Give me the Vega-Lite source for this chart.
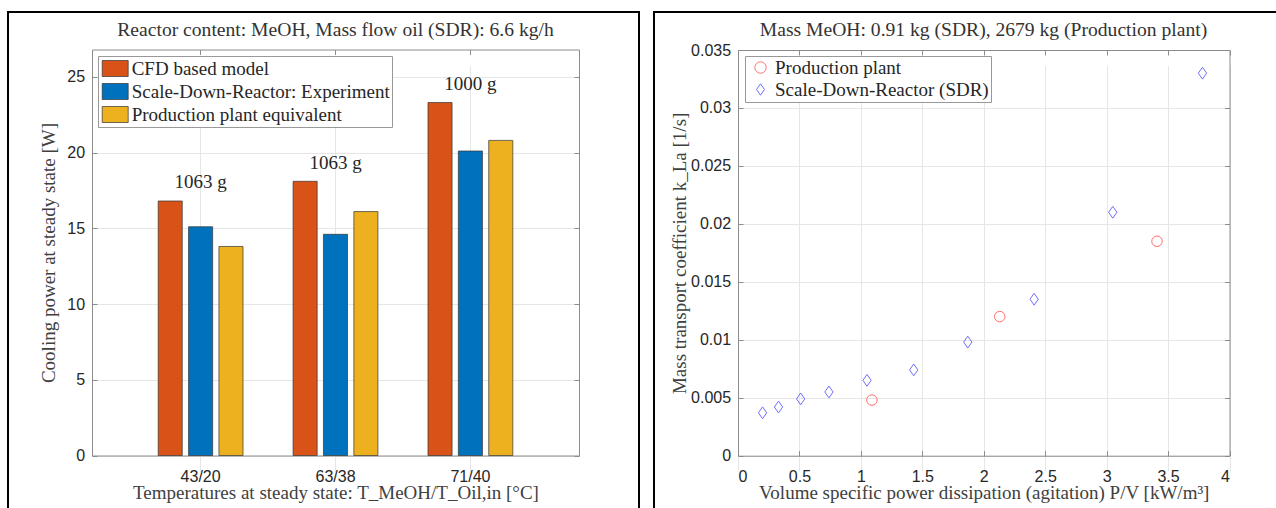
{
  "$schema": "https://vega.github.io/schema/vega-lite/v6.json",
  "padding": {"left": 7, "top": 11, "right": 0, "bottom": 0},
  "spacing": 13,
  "background": "white",
  "resolve": {
    "scale": {"color": "independent", "shape": "independent"},
    "legend": {"color": "independent", "shape": "independent"}
  },
  "datasets": {
    "bars": [
      {"temp": "43/20", "series": "CFD based model", "power": 16.8, "mass": "1063 g"},
      {"temp": "43/20", "series": "Scale-Down-Reactor: Experiment", "power": 15.1, "mass": "1063 g"},
      {"temp": "43/20", "series": "Production plant equivalent", "power": 13.8, "mass": "1063 g"},
      {"temp": "63/38", "series": "CFD based model", "power": 18.1, "mass": "1063 g"},
      {"temp": "63/38", "series": "Scale-Down-Reactor: Experiment", "power": 14.6, "mass": "1063 g"},
      {"temp": "63/38", "series": "Production plant equivalent", "power": 16.1, "mass": "1063 g"},
      {"temp": "71/40", "series": "CFD based model", "power": 23.3, "mass": "1000 g"},
      {"temp": "71/40", "series": "Scale-Down-Reactor: Experiment", "power": 20.1, "mass": "1000 g"},
      {"temp": "71/40", "series": "Production plant equivalent", "power": 20.8, "mass": "1000 g"}
    ],
    "points": [
      {"series": "Production plant", "pv": 1.09, "kla": 0.0048},
      {"series": "Production plant", "pv": 2.13, "kla": 0.012},
      {"series": "Production plant", "pv": 3.41, "kla": 0.0185},
      {"series": "Scale-Down-Reactor (SDR)", "pv": 0.2, "kla": 0.0037},
      {"series": "Scale-Down-Reactor (SDR)", "pv": 0.33, "kla": 0.0042},
      {"series": "Scale-Down-Reactor (SDR)", "pv": 0.51, "kla": 0.0049},
      {"series": "Scale-Down-Reactor (SDR)", "pv": 0.74, "kla": 0.0055},
      {"series": "Scale-Down-Reactor (SDR)", "pv": 1.05, "kla": 0.0065},
      {"series": "Scale-Down-Reactor (SDR)", "pv": 1.43, "kla": 0.0074},
      {"series": "Scale-Down-Reactor (SDR)", "pv": 1.87, "kla": 0.0098},
      {"series": "Scale-Down-Reactor (SDR)", "pv": 2.41, "kla": 0.0135},
      {"series": "Scale-Down-Reactor (SDR)", "pv": 3.05, "kla": 0.021},
      {"series": "Scale-Down-Reactor (SDR)", "pv": 3.78, "kla": 0.033}
    ]
  },
  "config": {
    "view": {"stroke": "black", "strokeWidth": 2},
    "axis": {
      "domainColor": "#8c8c8c",
      "domainWidth": 1,
      "tickColor": "#8c8c8c",
      "tickWidth": 1,
      "tickSize": -5,
      "gridColor": "#e6e6e6",
      "gridWidth": 1,
      "labelFont": "Liberation Sans",
      "labelFontSize": 16,
      "labelColor": "#262626",
      "titleFont": "Liberation Serif",
      "titleFontSize": 19,
      "titleFontWeight": "normal",
      "titleColor": "#404040"
    },
    "title": {
      "font": "Liberation Serif",
      "fontSize": 19.6,
      "fontWeight": "normal",
      "color": "#333333",
      "frame": "group",
      "anchor": "middle",
      "offset": -28.5,
      "baseline": "alphabetic"
    },
    "legend": {
      "orient": "none",
      "legendX": 90,
      "legendY": 44,
      "title": null,
      "fillColor": "white",
      "strokeColor": "#999999",
      "padding": 2,
      "rowPadding": 2,
      "labelFont": "Liberation Serif",
      "labelFontSize": 19,
      "labelColor": "#262626",
      "labelLimit": 500
    }
  },
  "hconcat": [
    {
      "width": 631,
      "height": 497,
      "title": {"text": "Reactor content: MeOH, Mass flow oil (SDR): 6.6 kg/h", "dx": 12},
      "data": {"name": "bars"},
      "resolve": {"axis": {"x": "independent", "y": "independent"}},
      "layer": [
        {
          "mark": {"type": "bar", "stroke": "#333333", "strokeWidth": 0.7},
          "encoding": {
            "x": {
              "field": "temp", "type": "nominal",
              "scale": {"domain": ["43/20", "63/38", "71/40"], "range": [84, 571], "paddingInner": 0, "paddingOuter": 0.305},
              "axis": {"orient": "bottom", "offset": -53.5, "bandPosition": 0.5, "labelAngle": 0, "labelPadding": 17.5, "grid": true,
                       "title": "Temperatures at steady state: T_MeOH/T_Oil,in [°C]", "titleY": 43, "titleBaseline": "alphabetic"}
            },
            "xOffset": {
              "field": "series", "type": "nominal",
              "scale": {"domain": ["CFD based model", "Scale-Down-Reactor: Experiment", "Production plant equivalent"], "paddingInner": 0.207, "paddingOuter": 0.824}
            },
            "y": {
              "field": "power", "type": "quantitative",
              "scale": {"domain": [0, 26.8], "range": [443.5, 37.5], "nice": false, "zero": false},
              "axis": {"orient": "left", "offset": -84, "values": [0, 5, 10, 15, 20, 25], "labelPadding": 12.4, "grid": true,
                       "title": "Cooling power at steady state [W]", "titleX": -37.7, "titleAngle": 270, "titleBaseline": "alphabetic"}
            },
            "color": {
              "field": "series", "type": "nominal",
              "scale": {"domain": ["CFD based model", "Scale-Down-Reactor: Experiment", "Production plant equivalent"], "range": ["#D95319", "#0072BD", "#EDB120"]},
              "legend": {"symbolType": "M-1.3,-0.8H1.3V0.8H-1.3Z", "symbolSize": 400, "symbolStrokeColor": "#333333", "symbolStrokeWidth": 0.7, "symbolOffset": 4.7, "labelOffset": 6}
            }
          }
        },
        {
          "transform": [{"filter": "datum.series === 'CFD based model'"}],
          "mark": {"type": "text", "baseline": "alphabetic", "dy": -12.5, "font": "Liberation Serif", "fontSize": 19, "color": "#262626"},
          "encoding": {
            "x": {"field": "temp", "type": "nominal",
                  "axis": {"orient": "top", "offset": -37.5, "bandPosition": 0.5, "labels": false, "grid": false, "title": null}},
            "y": {"field": "power", "type": "quantitative",
                  "axis": {"orient": "right", "offset": -60, "values": [0, 5, 10, 15, 20, 25], "labels": false, "grid": false, "title": null}},
            "text": {"field": "mass", "type": "nominal"}
          }
        }
      ]
    },
    {
      "width": 623,
      "height": 497,
      "title": {"text": "Mass MeOH: 0.91 kg (SDR), 2679 kg (Production plant)", "dx": 18},
      "data": {"name": "points"},
      "resolve": {"axis": {"x": "independent", "y": "independent"}},
      "layer": [
        {
          "transform": [{"filter": "datum.series === 'Production plant'"}],
          "mark": {"type": "point", "filled": false, "strokeWidth": 1, "size": 110, "opacity": 1},
          "encoding": {
            "x": {
              "field": "pv", "type": "quantitative",
              "scale": {"domain": [0, 4], "range": [84, 575.5], "nice": false},
              "axis": {"orient": "bottom", "offset": -53.3, "values": [0, 0.5, 1, 1.5, 2, 2.5, 3, 3.5, 4], "format": "~g", "labelPadding": 17.5, "grid": true,
                       "title": "Volume specific power dissipation (agitation) P/V [kW/m³]", "titleY": 43, "titleBaseline": "alphabetic"}
            },
            "y": {
              "field": "kla", "type": "quantitative",
              "scale": {"domain": [0, 0.035], "range": [443.7, 38], "nice": false},
              "axis": {"orient": "left", "offset": -84, "values": [0, 0.005, 0.01, 0.015, 0.02, 0.025, 0.03, 0.035], "format": "~g", "labelPadding": 12.4, "grid": true,
                       "title": "Mass transport coefficient k_La [1/s]", "titleX": -52.3, "titleAngle": 270, "titleBaseline": "alphabetic"}
            },
            "color": {
              "field": "series", "type": "nominal",
              "scale": {"domain": ["Production plant", "Scale-Down-Reactor (SDR)"], "range": ["#ff6e6e", "#6e6eff"]},
              "legend": {"legendX": 91, "symbolSize": 130, "symbolStrokeWidth": 1, "symbolOffset": 4, "labelOffset": 5}
            },
            "shape": {
              "field": "series", "type": "nominal",
              "scale": {"domain": ["Production plant", "Scale-Down-Reactor (SDR)"], "range": ["circle", "M0,-1L0.7,0L0,1L-0.7,0Z"]}
            }
          }
        },
        {
          "transform": [{"filter": "datum.series === 'Scale-Down-Reactor (SDR)'"}],
          "mark": {"type": "point", "filled": false, "strokeWidth": 1, "size": 140, "opacity": 1},
          "encoding": {
            "x": {"field": "pv", "type": "quantitative",
                  "axis": {"orient": "top", "offset": -38, "values": [0, 0.5, 1, 1.5, 2, 2.5, 3, 3.5, 4], "labels": false, "grid": false, "title": null}},
            "y": {"field": "kla", "type": "quantitative",
                  "axis": {"orient": "right", "offset": -47.5, "values": [0, 0.005, 0.01, 0.015, 0.02, 0.025, 0.03, 0.035], "labels": false, "grid": false, "title": null}},
            "color": {"field": "series", "type": "nominal"},
            "shape": {"field": "series", "type": "nominal"}
          }
        }
      ]
    }
  ]
}
